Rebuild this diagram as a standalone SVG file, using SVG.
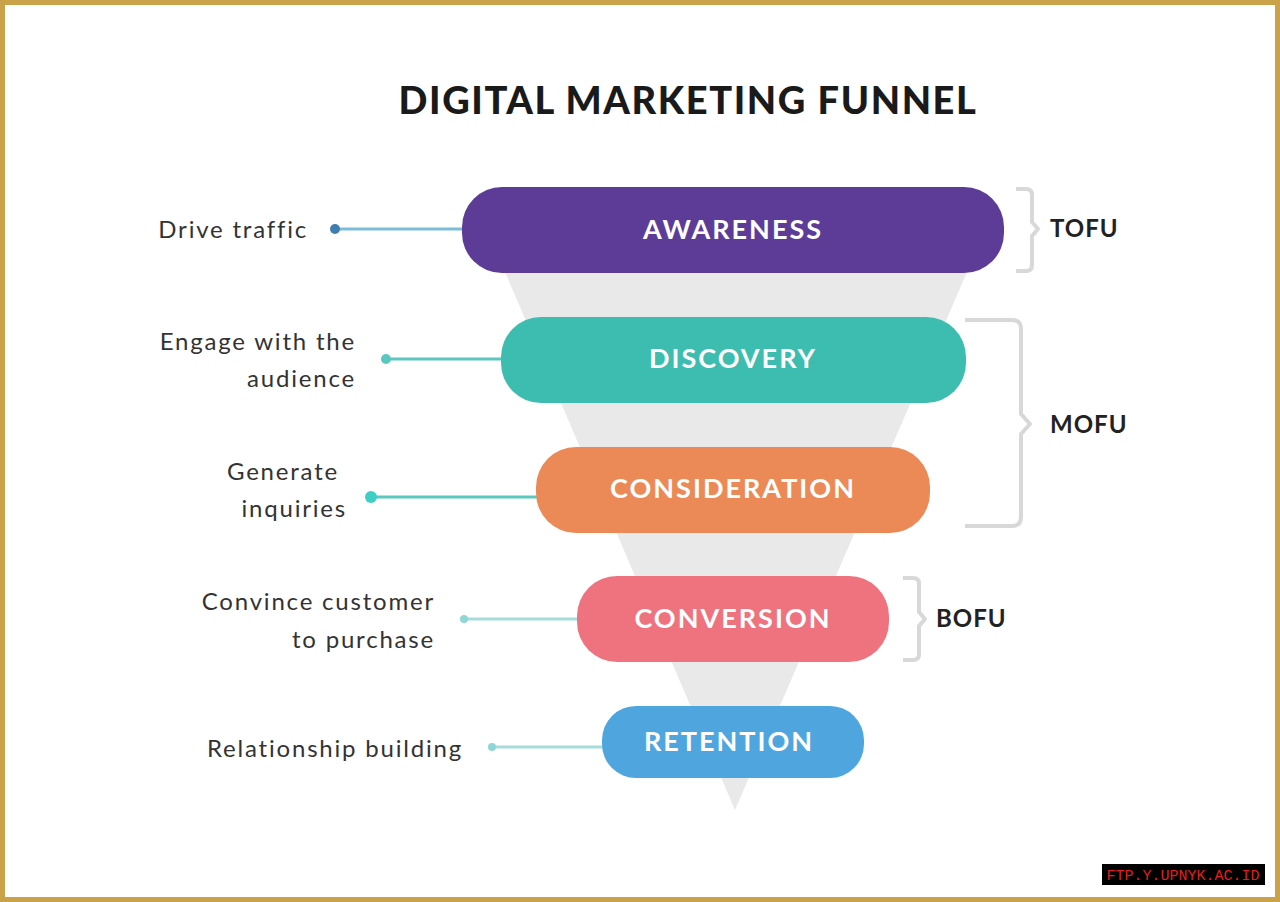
<svg xmlns="http://www.w3.org/2000/svg" width="1280" height="902" viewBox="0 0 1280 902">
<style>
.bar{font-family:"Lato","Liberation Sans",sans-serif;font-weight:bold;font-size:27px;fill:#fff;text-anchor:middle;letter-spacing:2px}
.lbl{font-family:"Lato","Liberation Sans",sans-serif;font-size:24px;fill:#333;text-anchor:end;letter-spacing:1.8px}
.tag{font-family:"Lato","Liberation Sans",sans-serif;font-weight:bold;font-size:24px;fill:#222;letter-spacing:1px}
.br{fill:none;stroke:#d8d8d8;stroke-width:4;stroke-linejoin:round}
</style>
<rect x="2.5" y="2.5" width="1275" height="897" fill="#fff" stroke="#c9a24a" stroke-width="5"/>
<text x="688" y="114" text-anchor="middle" font-family="Lato, Liberation Sans, sans-serif" font-weight="900" font-size="38" fill="#1a1a1a" letter-spacing="1.6">DIGITAL MARKETING FUNNEL</text>
<polygon points="505,272 967,272 735,810" fill="#e9e9e9"/>
<g id="connectors">
<line x1="335" y1="229" x2="465" y2="229" stroke="#7bbcd8" stroke-width="3"/><circle cx="335" cy="229" r="5" fill="#3f7fb0"/>
<line x1="386" y1="359" x2="504" y2="359" stroke="#5bc8c0" stroke-width="3"/><circle cx="386" cy="359" r="5" fill="#5bc8c0"/>
<line x1="371" y1="497" x2="540" y2="497" stroke="#5bc8c0" stroke-width="3"/><circle cx="371" cy="497" r="6" fill="#3ecfc4"/>
<line x1="464" y1="619" x2="580" y2="619" stroke="#a8dcdc" stroke-width="3"/><circle cx="464" cy="619" r="4" fill="#8fd6d6"/>
<line x1="492" y1="747" x2="605" y2="747" stroke="#a8dcdc" stroke-width="3"/><circle cx="492" cy="747" r="4" fill="#8fd6d6"/>
</g>
<g id="awareness"><rect x="462" y="187" width="542" height="86" rx="40" fill="#5c3c97"/><text class="bar" x="733" y="239">AWARENESS</text><text class="lbl" x="308" y="238">Drive traffic</text></g>
<g id="discovery"><rect x="501" y="317" width="465" height="86" rx="40" fill="#3dbcb0"/><text class="bar" x="733" y="368">DISCOVERY</text><text class="lbl" x="356" y="350">Engage with the</text><text class="lbl" x="356" y="387">audience</text></g>
<g id="consideration"><rect x="536" y="447" width="394" height="86" rx="40" fill="#ec8a57"/><text class="bar" x="733" y="498">CONSIDERATION</text><text class="lbl" x="339" y="480">Generate</text><text class="lbl" x="347" y="517">inquiries</text></g>
<g id="conversion"><rect x="577" y="576" width="312" height="86" rx="40" fill="#ee737e"/><text class="bar" x="733" y="628">CONVERSION</text><text class="lbl" x="435" y="610">Convince customer</text><text class="lbl" x="435" y="648">to purchase</text></g>
<g id="retention"><rect x="602" y="706" width="262" height="72" rx="34" fill="#4fa6df"/><text class="bar" x="729" y="751">RETENTION</text><text class="lbl" x="463" y="757">Relationship building</text></g>
<g id="tofu"><path class="br" d="M1016,189 H1026 Q1032,189 1032,195 V222 L1038,229 L1032,236 V265 Q1032,271 1026,271 H1016"/><text class="tag" x="1050" y="237">TOFU</text></g>
<g id="mofu"><path class="br" d="M965,320 H1012 Q1021,320 1021,329 V414 L1030,424 L1021,434 V517 Q1021,526 1012,526 H965" stroke-width="6"/><text class="tag" x="1050" y="433">MOFU</text></g>
<g id="bofu"><path class="br" d="M903,578 H913 Q919,578 919,584 V612 L925,619 L919,626 V654 Q919,660 913,660 H903"/><text class="tag" x="936" y="627">BOFU</text></g>
<rect x="1102" y="864" width="163" height="21" fill="#000"/>
<text x="1183" y="880" text-anchor="middle" font-family="Liberation Mono, monospace" font-size="15" fill="#e02020">FTP.Y.UPNYK.AC.ID</text>
</svg>
